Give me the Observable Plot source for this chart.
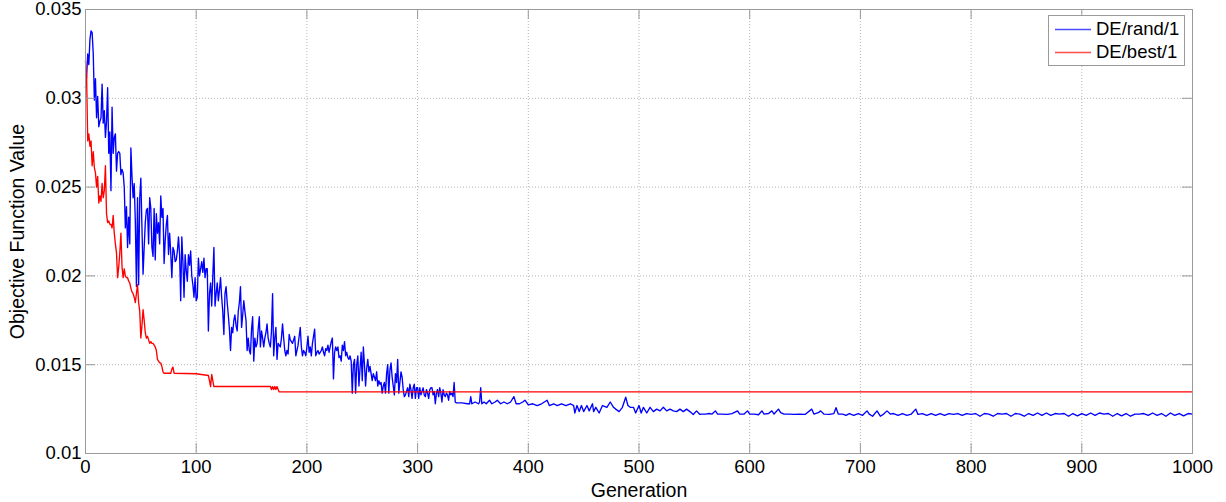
<!DOCTYPE html>
<html><head><meta charset="utf-8">
<script src="https://cdn.jsdelivr.net/npm/d3@7"></script>
<script src="https://cdn.jsdelivr.net/npm/@observablehq/plot@0.6"></script>
<style>
html,body{margin:0;padding:0;background:#fff;}
#wrap{position:relative;width:1226px;height:502px;font-family:"Liberation Sans",Arial,Helvetica,sans-serif;}
#legend{position:absolute;left:1048px;top:15px;width:137px;height:51px;border:1px solid #9a9a9a;background:#fff;box-sizing:border-box;}
.item{position:absolute;left:0;width:100%;height:22px;}
.sw{position:absolute;left:6px;top:0;}
.lb{position:absolute;left:47px;top:0;font-size:18.5px;line-height:22px;color:#000;white-space:nowrap;}
</style></head>
<body><div id="wrap"><div id="legend"></div></div>
<script>
// Series names & colors
const seriesNames = ["DE/rand/1", "DE/best/1"];
const seriesColors = ["#0000ff", "#ff0000"];

// Axis ticks & labels
const xTicks = [0, 100, 200, 300, 400, 500, 600, 700, 800, 900, 1000];
const xTickLabels = ["0","100","200","300","400","500","600","700","800","900","1000"];
const yTicks = [0.01, 0.015, 0.02, 0.025, 0.03, 0.035];
const yTickLabels = ["0.01","0.015","0.02","0.025","0.03","0.035"];
const xTitle = "Generation";
const yTitle = "Objective Function Value";

// DE/rand/1, generations 0..334 (one value per generation)
const blueEarlyVal = [
0.0306,0.0312,0.0325,0.0319,0.0333,0.0338,0.0337,0.0325,0.0299,0.0311,
0.0289,0.0301,0.0284,0.0287,0.0289,0.0308,0.0286,0.0293,0.0278,0.0287,
0.0306,0.0269,0.0281,0.0248,0.0295,0.0269,0.0278,0.0280,0.0259,0.0269,
0.0270,0.0269,0.0257,0.0260,0.0258,0.0250,0.0227,0.0239,0.0216,0.0233,
0.0218,0.0272,0.0256,0.0244,0.0252,0.0231,0.0194,0.0244,0.0195,0.0244,
0.0255,0.0227,0.0201,0.0216,0.0230,0.0237,0.0238,0.0218,0.0244,0.0238,
0.0216,0.0211,0.0238,0.0209,0.0235,0.0224,0.0230,0.0218,0.0245,0.0233,
0.0238,0.0207,0.0220,0.0229,0.0234,0.0212,0.0224,0.0213,0.0199,0.0216,
0.0214,0.0208,0.0209,0.0214,0.0222,0.0212,0.0186,0.0222,0.0208,0.0188,
0.0212,0.0203,0.0197,0.0212,0.0206,0.0214,0.0200,0.0195,0.0188,0.0199,
0.0186,0.0188,0.0210,0.0200,0.0204,0.0208,0.0202,0.0210,0.0199,0.0204,
0.0204,0.0169,0.0190,0.0196,0.0183,0.0200,0.0216,0.0183,0.0190,0.0196,
0.0186,0.0192,0.0199,0.0188,0.0180,0.0167,0.0190,0.0194,0.0185,0.0178,
0.0170,0.0158,0.0171,0.0168,0.0175,0.0178,0.0172,0.0169,0.0180,0.0185,
0.0194,0.0171,0.0178,0.0186,0.0180,0.0175,0.0158,0.0165,0.0158,0.0156,
0.0170,0.0177,0.0152,0.0165,0.0160,0.0162,0.0170,0.0177,0.0160,0.0169,
0.0165,0.0160,0.0165,0.0168,0.0173,0.0165,0.0162,0.0160,0.0169,0.0190,
0.0155,0.0165,0.0171,0.0153,0.0162,0.0161,0.0160,0.0165,0.0173,0.0165,
0.0158,0.0155,0.0158,0.0156,0.0167,0.0164,0.0163,0.0162,0.0164,0.0166,
0.0155,0.0158,0.0161,0.0166,0.0171,0.0160,0.0155,0.0158,0.0157,0.0155,
0.0160,0.0166,0.0157,0.0160,0.0155,0.0162,0.0166,0.0170,0.0155,0.0157,
0.0158,0.0156,0.0157,0.0158,0.0160,0.0157,0.0155,0.0159,0.0158,0.0161,
0.0157,0.0160,0.0163,0.0165,0.0142,0.0157,0.0160,0.0158,0.0160,0.0154,
0.0155,0.0152,0.0161,0.0158,0.0163,0.0155,0.0157,0.0154,0.0153,0.0155,
0.0152,0.0134,0.0150,0.0153,0.0134,0.0150,0.0155,0.0138,0.0148,0.0157,
0.0141,0.0160,0.0150,0.0138,0.0148,0.0153,0.0146,0.0149,0.0145,0.0141,
0.0145,0.0143,0.0141,0.0146,0.0138,0.0141,0.0139,0.0140,0.0134,0.0138,
0.0140,0.0134,0.0145,0.0150,0.0134,0.0147,0.0151,0.0143,0.0138,0.0133,
0.0145,0.0140,0.0153,0.0134,0.0140,0.0146,0.0143,0.0136,0.0132,0.0133,
0.0135,0.0137,0.0132,0.0139,0.0136,0.0131,0.0137,0.0139,0.0131,0.0137,
0.0137,0.0131,0.0137,0.0133,0.0135,0.0137,0.0133,0.0132,0.0136,0.0134,
0.0131,0.0136,0.0137,0.0137,0.0133,0.0135,0.0128,0.0134,0.0136,0.0132,
0.0137,0.0134,0.0129,0.0136,0.0133,0.0132,0.0134,0.0133,0.0130,0.0135,
0.0133,0.0134,0.0132,0.0140,0.0129
];

// DE/rand/1, generations 335..1000
const blueLateGen = [
335,340,345,347,348,349,352,355,356,357,358,360,362,365,367,370,372,375,378,381,
384,387,389,392,395,397,400,404,408,412,417,419,423,426,430,434,438,441,442,444,
446,448,450,453,455,458,459,461,464,467,471,474,477,479,482,485,488,490,492,495,
497,500,502,504,507,510,513,516,519,522,525,528,531,534,537,540,543,546,549,552,
555,556,560,564,566,569,571,575,580,584,589,591,595,598,600,604,608,611,613,617,
620,622,626,628,631,636,640,645,650,656,658,662,664,667,672,676,678,680,684,687,
690,694,698,702,706,708,711,715,718,721,724,727,730,734,738,742,746,750,752,756,
760,764,768,772,776,780,784,788,792,796,800,804,808,812,816,820,824,828,832,836,
840,844,848,852,856,860,864,868,872,876,880,884,888,892,896,900,904,908,912,916,
920,924,928,932,936,940,944,948,952,956,960,964,968,972,976,980,984,988,992,996,
1000
];
const blueLateVal = [
0.01285,0.01285,0.0128,0.0128,0.0132,0.0128,0.0129,0.0128,0.0129,0.0137,0.0128,0.0129,0.0128,0.0130,0.0128,0.0129,0.0130,0.0128,0.0129,0.0128,
0.0129,0.0132,0.0128,0.0128,0.0129,0.0130,0.01274,0.0128,0.0127,0.0128,0.0130,0.0127,0.0128,0.0127,0.0128,0.0127,0.0128,0.0127,0.01228,0.0127,
0.01236,0.0127,0.01236,0.0127,0.0124,0.0128,0.01236,0.0126,0.01228,0.0127,0.0126,0.0129,0.0126,0.0125,0.01236,0.0126,0.01317,0.0127,0.0126,0.0126,
0.01228,0.0127,0.01228,0.0126,0.01228,0.0126,0.01236,0.0125,0.0124,0.0126,0.0124,0.0125,0.0124,0.01236,0.0125,0.01236,0.0125,0.01236,0.0122,0.0124,
0.0122,0.01222,0.01222,0.01225,0.01222,0.0124,0.01222,0.01222,0.0122,0.01225,0.0124,0.01222,0.01222,0.0124,0.01222,0.01222,0.01218,0.0124,0.01222,0.01225,
0.0124,0.01222,0.0125,0.0123,0.01222,0.01222,0.0122,0.01222,0.0122,0.0125,0.01222,0.0123,0.0124,0.01222,0.0122,0.01225,0.01258,0.01222,0.01222,0.01215,
0.01225,0.01215,0.01225,0.01215,0.0124,0.01222,0.0121,0.0124,0.0121,0.01222,0.0124,0.01222,0.01225,0.01215,0.01225,0.01215,0.01222,0.0125,0.0122,0.01225,
0.01215,0.01225,0.01215,0.01225,0.01215,0.01225,0.0122,0.01225,0.01215,0.01225,0.0122,0.01225,0.0121,0.01225,0.01222,0.0121,0.01225,0.01222,0.01225,0.0121,
0.01225,0.01222,0.0121,0.01225,0.01215,0.01228,0.01215,0.01228,0.01215,0.01225,0.01222,0.01225,0.0121,0.01225,0.01212,0.01225,0.01215,0.01228,0.01215,0.01228,
0.01222,0.01225,0.0121,0.01225,0.01212,0.01225,0.0121,0.01222,0.01222,0.01225,0.01215,0.01228,0.01215,0.01225,0.0121,0.01228,0.01215,0.01225,0.01212,0.01225,
0.01222
];

// DE/best/1
const redGen = [
0,1,2,3,4,5,6,7,8,9,10,11,12,13,14,15,16,17,18,19,
20,21,22,23,24,25,26,27,28,29,30,31,32,33,34,35,36,37,38,39,
40,41,42,43,44,45,46,47,48,49,50,51,52,53,54,55,56,57,58,59,
60,61,62,63,64,65,66,67,68,69,70,71,77,78,79,80,100,111,112,113,
114,115,116,167,168,169,170,171,172,173,174,175,1000
];
const redVal = [
0.0321,0.0312,0.0276,0.0280,0.0273,0.0276,0.0262,0.0270,0.0261,0.0258,0.0250,0.0256,0.0241,0.0245,0.0242,0.0252,0.0244,0.0248,0.0262,0.0235,
0.0230,0.0231,0.0229,0.0229,0.0227,0.0234,0.0224,0.0218,0.0213,0.0199,0.0205,0.0213,0.0224,0.0205,0.0199,0.0204,0.0200,0.0199,0.0199,0.0197,
0.0196,0.0193,0.0191,0.0190,0.0188,0.0185,0.0190,0.0195,0.0185,0.0180,0.0165,0.0172,0.0181,0.0175,0.0168,0.0165,0.0166,0.0164,0.0162,0.0163,
0.0162,0.0162,0.0161,0.0160,0.0158,0.0153,0.0152,0.0151,0.0151,0.0149,0.0146,0.01452,0.01452,0.01475,0.01486,0.01452,0.01449,0.01439,0.0141,0.01377,
0.01445,0.0141,0.01377,0.01377,0.0136,0.01377,0.0136,0.01377,0.0136,0.01377,0.0136,0.01347,0.01347
];

const blue = [
  ...blueEarlyVal.map((v, i) => ({gen: i, val: v})),
  ...blueLateGen.map((g, i) => ({gen: g, val: blueLateVal[i]}))
];
const red = redGen.map((g, i) => ({gen: g, val: redVal[i]}));

const xFmt = new Map(xTicks.map((t, i) => [t, xTickLabels[i]]));
const yFmt = new Map(yTicks.map((t, i) => [t, yTickLabels[i]]));

const W = 1226, H = 502, ML = 85, MR = 34, MT = 9, MB = 49;
const TICK = 10;
const axisColor = "#9a9a9a";
const font = '"Liberation Sans", Arial, Helvetica, sans-serif';

const chart = Plot.plot({
  width: W, height: H,
  marginLeft: ML, marginRight: MR, marginTop: MT, marginBottom: MB,
  style: {fontFamily: font, fontSize: "18.5px", color: "#000", background: "#fff", overflow: "visible"},
  x: {domain: [0, 1000]},
  y: {domain: [0.01, 0.035]},
  marks: [
    Plot.gridX(xTicks.slice(1, -1), {stroke: "#b4b4b4", strokeOpacity: 1, strokeDasharray: "1,2"}),
    Plot.gridY(yTicks.slice(1, -1), {stroke: "#b4b4b4", strokeOpacity: 1, strokeDasharray: "1,2"}),
    Plot.line(blue, {x: "gen", y: "val", stroke: seriesColors[0], strokeWidth: 1.35}),
    Plot.line(red, {x: "gen", y: "val", stroke: seriesColors[1], strokeWidth: 1.35}),
    Plot.frame({stroke: axisColor, strokeWidth: 1}),
    Plot.tickX(xTicks, {x: d => d, insetTop: H - MT - MB - TICK, stroke: axisColor}),
    Plot.tickX(xTicks, {x: d => d, insetBottom: H - MT - MB - TICK, stroke: axisColor}),
    Plot.tickY(yTicks, {y: d => d, insetRight: W - ML - MR - TICK, stroke: axisColor}),
    Plot.tickY(yTicks, {y: d => d, insetLeft: W - ML - MR - TICK, stroke: axisColor}),
    Plot.axisX(xTicks, {tickSize: 0, tickPadding: 6, label: null, tickFormat: d => xFmt.get(d), fontSize: 18.5}),
    Plot.axisY(yTicks, {tickSize: 0, tickPadding: 4, label: null, tickFormat: d => yFmt.get(d), fontSize: 18.5}),
    Plot.text([xTitle], {text: d => d, frameAnchor: "bottom", textAnchor: "middle", lineAnchor: "middle", dy: 37, fontSize: 19.5}),
    Plot.text([yTitle], {text: d => d, frameAnchor: "left", textAnchor: "middle", lineAnchor: "middle", rotate: -90, dx: -68, fontSize: 19.5})
  ]
});
const wrap = document.getElementById("wrap");
wrap.insertBefore(chart, wrap.firstChild);

const legend = document.getElementById("legend");
const NS = "http://www.w3.org/2000/svg";
seriesNames.forEach((name, i) => {
  const item = document.createElement("div");
  item.className = "item";
  item.style.top = (2 + i * 23) + "px";
  const sw = document.createElementNS(NS, "svg");
  sw.setAttribute("class", "sw");
  sw.setAttribute("width", "36");
  sw.setAttribute("height", "22");
  const ln = document.createElementNS(NS, "line");
  ln.setAttribute("x1", "0"); ln.setAttribute("x2", "36");
  ln.setAttribute("y1", "11.5"); ln.setAttribute("y2", "11.5");
  ln.setAttribute("stroke", seriesColors[i]);
  ln.setAttribute("stroke-width", "1.6");
  ln.setAttribute("stroke-opacity", "0.7");
  sw.appendChild(ln);
  const lb = document.createElement("div");
  lb.className = "lb";
  lb.textContent = name;
  item.appendChild(sw); item.appendChild(lb);
  legend.appendChild(item);
});
</script>
</body></html>
